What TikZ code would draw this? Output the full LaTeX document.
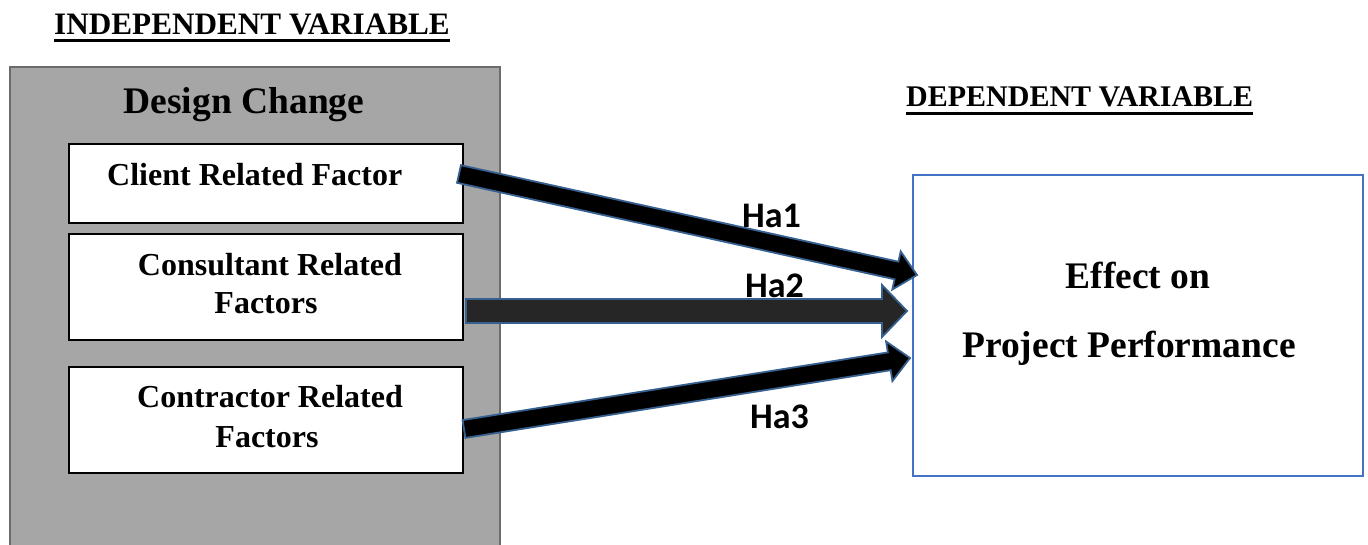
\documentclass[tikz,border=0pt]{standalone}
\usepackage{fontspec}
\setmainfont{Liberation Serif}
\newfontfamily\hafont{Carlito}
\usetikzlibrary{calc}

\definecolor{panelgray}{HTML}{A6A6A6}
\definecolor{panelrim}{HTML}{6B6B6B}
\definecolor{outcomeblue}{HTML}{4472C4}
\definecolor{arrowrim}{HTML}{35608F}
\definecolor{arrowdark}{HTML}{262626}

% thick block arrow: #1 style, #2 tail coordinate, #3 tip coordinate,
% #4 half shaft width, #5 head length, #6 half head width
\newcommand\blockarrow[6]{%
  \coordinate (#2base) at ($(#3)!#5!(#2)$);
  \filldraw[#1]
    ($(#2)!#4!90:(#3)$) -- ($(#2base)!#4!-90:(#2)$) --
    ($(#2base)!#6!-90:(#2)$) -- (#3) --
    ($(#2base)!#6!90:(#2)$) -- ($(#2base)!#4!90:(#2)$) --
    ($(#2)!#4!-90:(#3)$) -- cycle;}

\begin{document}
\begin{tikzpicture}[x=1pt,y=-1pt,
  txt/.style={inner sep=0pt,font=\bfseries\fontsize{32}{36}\selectfont},
  bigtxt/.style={inner sep=0pt,font=\bfseries\fontsize{37.5}{40}\selectfont},
  factorbox/.style={draw=black,line width=1.8pt,fill=white},
  hlabel/.style={inner sep=0pt,anchor=base west,font=\hafont\bfseries\fontsize{36}{38}\selectfont},
  flow/.style={fill=black,draw=arrowrim,line width=1.8pt,line join=miter},
  flowdark/.style={flow,fill=arrowdark}]

\clip (0,0) rectangle (1368,544);
\fill[white] (0,0) rectangle (1368,544);

% headings
\node[inner sep=0pt,anchor=base west,font=\bfseries\fontsize{31.2}{34}\selectfont] (indep) at (54,34) {INDEPENDENT VARIABLE};
\draw[line width=2.6pt] ([yshift=-6.5pt]indep.base west) -- ([yshift=-6.5pt]indep.base east);
\node[inner sep=0pt,anchor=base west,font=\bfseries\fontsize{30}{34}\selectfont] (dep) at (906,106) {DEPENDENT VARIABLE};
\draw[line width=2.6pt] ([yshift=-7.5pt]dep.base west) -- ([yshift=-7.5pt]dep.base east);

% independent variable panel
\draw[fill=panelgray,draw=panelrim,line width=2.2pt] (10,67) rectangle (500,560);
\node[bigtxt,anchor=base] (design) at (244,113) {Design Change};

\draw[factorbox] (69,144) rectangle (463,223);
\node (client) at (266,183.5) {};
\node[txt,anchor=base west] (clientT) at (107,185) {Client Related Factor};

\draw[factorbox] (69,234) rectangle (463,340);
\node (consult) at (266,287) {};
\node[txt,anchor=base] (consultA) at (270,275) {Consultant Related};
\node[txt,anchor=base] (consultB) at (266,313) {Factors};

\draw[factorbox] (69,367) rectangle (463,473);
\node (contract) at (266,420) {};
\node[txt,anchor=base] (contractA) at (270,407) {Contractor Related};
\node[txt,anchor=base] (contractB) at (267,447) {Factors};

% dependent variable box
\node[draw=outcomeblue,line width=2.2pt,fill=white,minimum width=450pt,minimum height=301pt,inner sep=0pt] (outcome) at (1138,325.5) {};
\node[bigtxt,anchor=base] (effA) at (1138,288) {Effect on};
\node[bigtxt,anchor=base] (effB) at (1129,357) {Project Performance};

% hypothesis labels
\node[hlabel] (ha1) at (742,227) {Ha1};
\node[hlabel] (ha2) at (745,297) {Ha2};
\node[hlabel] (ha3) at (750,428) {Ha3};

% arrows from each factor to the outcome
\coordinate (t1) at (459,174);
\coordinate (p1) at (917,275);
\coordinate (t2) at (466,311);
\coordinate (p2) at (907,311);
\coordinate (t3) at (464,429);
\coordinate (p3) at (910,358);

\blockarrow{flow}{t1}{p1}{9pt}{21pt}{19.5pt}
\blockarrow{flowdark}{t2}{p2}{12pt}{25pt}{26pt}
\blockarrow{flow}{t3}{p3}{9pt}{21pt}{20pt}

\end{tikzpicture}
\end{document}
